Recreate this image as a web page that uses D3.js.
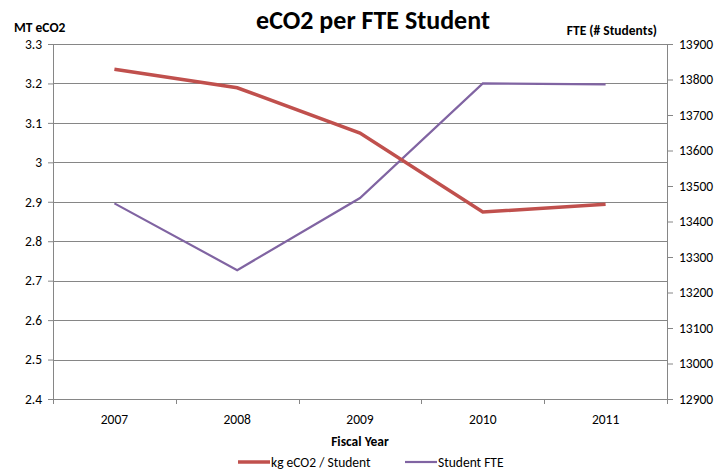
<!DOCTYPE html>
<html>
<head>
<meta charset="utf-8">
<script src="https://cdn.jsdelivr.net/npm/d3@7"></script>
<style>
  body { margin: 0; background: #fff; }
  text { font-family: Carlito, Calibri, Lato, sans-serif; fill: #000; }
  .tick text { font-size: 13.5px; }
  .axis path, .axis line { stroke: #868686; }
</style>
</head>
<body>
<div id="vis"></div>
<script>
// chart data
var years = ['2007', '2008', '2009', '2010', '2011'];
var co2PerStudent = [3.236, 3.189, 3.074, 2.874, 2.894];
var studentFTE = [13451, 13263, 13466, 13789, 13786];
var leftTicks = [2.4, 2.5, 2.6, 2.7, 2.8, 2.9, 3.0, 3.1, 3.2, 3.3];
var rightTicks = [12900, 13000, 13100, 13200, 13300, 13400, 13500, 13600, 13700, 13800, 13900];

var width = 724, height = 474;
var margin = { left: 53, right: 57, top: 44, bottom: 75 };
var drawWidth = width - margin.left - margin.right;
var drawHeight = height - margin.top - margin.bottom;

var svg = d3.select('#vis').append('svg')
    .attr('width', width)
    .attr('height', height);

var g = svg.append('g')
    .attr('transform', 'translate(' + margin.left + ',' + margin.top + ')');

// scales
var xScale = d3.scaleBand().domain(years).range([0, drawWidth]);
var yLeft = d3.scaleLinear().domain([2.4, 3.3]).range([drawHeight, 0]);
var yRight = d3.scaleLinear().domain([12900, 13900]).range([drawHeight, 0]);

// gridlines
g.selectAll('.grid').data(leftTicks).enter().append('line')
    .attr('class', 'grid')
    .attr('x1', 0).attr('x2', drawWidth)
    .attr('y1', function(d) { return Math.round(yLeft(d)) + 0.5; })
    .attr('y2', function(d) { return Math.round(yLeft(d)) + 0.5; })
    .attr('stroke', '#868686')
    .attr('stroke-width', 1);

// left axis
var leftAxis = d3.axisLeft(yLeft)
    .tickValues(leftTicks)
    .tickSize(5)
    .tickPadding(6)
    .tickFormat(function(d) { return d === 3 ? '3' : d3.format('.1f')(d); });
g.append('g').attr('class', 'axis').call(leftAxis);

// right axis
var rightAxis = d3.axisRight(yRight)
    .tickValues(rightTicks)
    .tickSize(6)
    .tickPadding(6)
    .tickFormat(d3.format('d'));
g.append('g').attr('class', 'axis')
    .attr('transform', 'translate(' + drawWidth + ',0)')
    .call(rightAxis);

// bottom axis, ticks at category boundaries
var xAxisG = g.append('g').attr('class', 'axis')
    .attr('transform', 'translate(0,' + drawHeight + ')');
xAxisG.append('line')
    .attr('x1', 0).attr('x2', drawWidth)
    .attr('y1', 0.5).attr('y2', 0.5)
    .attr('stroke', '#868686');
var bounds = years.map(function(d) { return xScale(d); }).concat([drawWidth]);
xAxisG.selectAll('.xtick').data(bounds).enter().append('line')
    .attr('x1', function(d) { return Math.round(d) + 0.5; })
    .attr('x2', function(d) { return Math.round(d) + 0.5; })
    .attr('y1', 0).attr('y2', 5)
    .attr('stroke', '#868686');
xAxisG.selectAll('.xlabel').data(years).enter().append('text')
    .attr('x', function(d) { return xScale(d) + xScale.bandwidth() / 2; })
    .attr('y', 25)
    .attr('text-anchor', 'middle')
    .style('font-size', '13.5px')
    .text(function(d) { return d; });

// lines
var lineLeft = d3.line()
    .x(function(d, i) { return xScale(years[i]) + xScale.bandwidth() / 2; })
    .y(function(d) { return yLeft(d); });
var lineRight = d3.line()
    .x(function(d, i) { return xScale(years[i]) + xScale.bandwidth() / 2; })
    .y(function(d) { return yRight(d); });

g.append('path').datum(studentFTE)
    .attr('d', lineRight)
    .attr('fill', 'none')
    .attr('stroke', '#8064A2')
    .attr('stroke-width', 2.2);

g.append('path').datum(co2PerStudent)
    .attr('d', lineLeft)
    .attr('fill', 'none')
    .attr('stroke', '#C0504D')
    .attr('stroke-width', 3.5);

// titles
svg.append('text')
    .attr('x', 373).attr('y', 29)
    .attr('text-anchor', 'middle')
    .style('font-size', '26px')
    .style('font-weight', 'bold')
    .text('eCO2 per FTE Student');

svg.append('text')
    .attr('x', 14).attr('y', 32)
    .style('font-size', '13.5px')
    .style('font-weight', 'bold')
    .text('MT eCO2');

svg.append('text')
    .attr('x', 657).attr('y', 35)
    .attr('text-anchor', 'end')
    .style('font-size', '13.5px')
    .style('font-weight', 'bold')
    .text('FTE (# Students)');

svg.append('text')
    .attr('x', margin.left + drawWidth / 2).attr('y', 446)
    .attr('text-anchor', 'middle')
    .style('font-size', '13.5px')
    .style('font-weight', 'bold')
    .text('Fiscal Year');

// legend
var legendItems = [
    { name: 'kg eCO2 / Student', color: '#C0504D', w: 3.5, x: 238 },
    { name: 'Student FTE', color: '#8064A2', w: 2.2, x: 405 }
];
var legend = svg.selectAll('.legend').data(legendItems).enter().append('g')
    .attr('transform', function(d) { return 'translate(' + d.x + ',462)'; });
legend.append('line')
    .attr('x1', 0).attr('x2', 32)
    .attr('y1', 0).attr('y2', 0)
    .attr('stroke', function(d) { return d.color; })
    .attr('stroke-width', function(d) { return d.w; });
legend.append('text')
    .attr('x', 33).attr('y', 5)
    .style('font-size', '13.5px')
    .text(function(d) { return d.name; });
</script>
</body>
</html>
